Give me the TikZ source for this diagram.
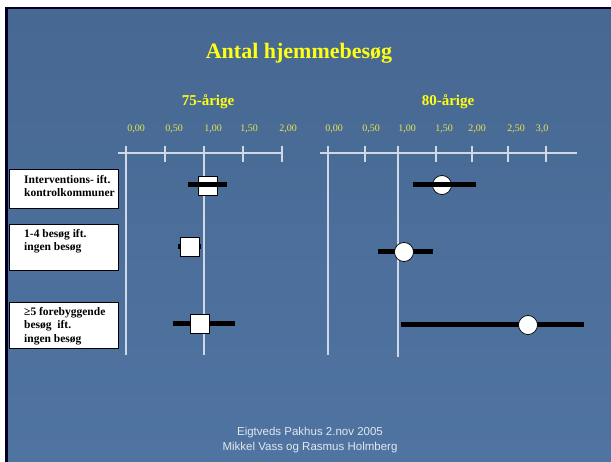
\documentclass[tikz,border=0pt]{standalone}
\usepackage{fontspec}
\setmainfont{Liberation Serif}
\setsansfont{Liberation Sans}
\usetikzlibrary{positioning}

\definecolor{slidetop}{RGB}{70,104,146}
\definecolor{slidemid}{RGB}{86,122,167}
\definecolor{slidelow}{RGB}{80,116,162}
\definecolor{titleyellow}{RGB}{255,255,20}
\definecolor{tickyellow}{RGB}{232,232,80}
\definecolor{axisgray}{RGB}{208,216,230}
\definecolor{footgray}{RGB}{226,231,238}

\begin{document}
\begin{tikzpicture}[x=1pt,y=-1pt,
    labelbox/.style={draw=black,fill=white,line width=0.8pt,minimum width=109pt,minimum height=#1,inner sep=0pt},
    labeltext/.style={anchor=north west,align=left,inner sep=0pt,font=\fontsize{11.5}{13.5}\selectfont\bfseries},
    ticklabel/.style={text=tickyellow,font=\fontsize{10}{12}\selectfont,inner sep=0pt},
    grouptitle/.style={text=titleyellow,font=\fontsize{15}{18}\selectfont\bfseries,inner sep=0pt},
    squaremark/.style={draw=black,fill=white,line width=0.7pt,minimum size=19pt,inner sep=0pt},
    circlemark/.style={circle,draw=black,fill=white,line width=0.7pt,minimum size=19pt,inner sep=0pt},
    cibar/.style={line width=5pt,black},
    axisline/.style={axisgray,line width=1.6pt}]
    \useasboundingbox (0,0) rectangle (611,462);
    % slide background and frame
    \fill[white] (0,0) rectangle (611,462);
    \fill[black!85!blue] (5,7) rectangle (611,462);
    \shade[top color=slidetop,middle color=slidemid,bottom color=slidelow] (8,10) rectangle (611,462);

    \node[text=titleyellow,font=\fontsize{22}{26}\selectfont\bfseries,inner sep=0pt] (title) at (299,53) {Antal hjemmebesøg};
    \node[grouptitle] (age75) at (208,102) {75-årige};
    \node[grouptitle] (age80) at (448,102) {80-årige};

    % axes
    \draw[axisline] (118,153) -- (282,153);
    \foreach \x in {165,243,282} \draw[axisline] (\x,146) -- (\x,162);
    \draw[axisline,line width=1.3pt] (126,146) -- (126,355);
    \draw[axisline,line width=1.3pt] (204,146) -- (204,355);
    \draw[axisline] (320,153) -- (577,153);
    \foreach \x in {365,436,472,508,546} \draw[axisline] (\x,146) -- (\x,162);
    \draw[axisline,line width=1.3pt] (328,146) -- (328,355);
    \draw[axisline,line width=1.3pt] (398,146) -- (398,357);

    \foreach \x/\t in {136/{0,00},174/{0,50},213/{1,00},249/{1,50},288/{2,00}}
      \node[ticklabel] at (\x,129) {\t};
    \foreach \x/\t in {334/{0,00},371/{0,50},407/{1,00},444/{1,50},477/{2,00},516/{2,50},542/{3,0}}
      \node[ticklabel] at (\x,129) {\t};

    % row labels
    \node[labelbox=39pt] (lab1) at (63.5,188.5) {};
    \node[labeltext] at (24,175) {Interventions- ift.\\kontrolkommuner};
    \node[labelbox=46pt] (lab2) at (63.5,247) {};
    \node[labeltext] at (24,229) {1-4 besøg ift.\\ingen besøg};
    \node[labelbox=46pt] (lab3) at (63.5,325) {};
    \node[labeltext] at (24,307) {≥5 forebyggende\\besøg\ \ ift.\\ingen besøg};

    % 75-aarige
    \coordinate (l1a) at (188,185); \coordinate (l1b) at (227,185);
    \node[squaremark] (sq1) at (207.5,185.5) {};
    \draw[cibar] (l1a) -- (l1b);
    \coordinate (l2a) at (178,247); \coordinate (l2b) at (201,247);
    \draw[cibar] (l2a) -- (l2b);
    \node[squaremark] (sq2) at (189.5,247) {};
    \coordinate (l3a) at (173,324); \coordinate (l3b) at (235,324);
    \draw[cibar] (l3a) -- (l3b);
    \node[squaremark] (sq3) at (199.5,324) {};

    % 80-aarige
    \coordinate (r1a) at (413,185); \coordinate (r1b) at (476,185);
    \node[circlemark] (ci1) at (442,185) {};
    \draw[cibar] (r1a) -- (r1b);
    \coordinate (r2a) at (378,252); \coordinate (r2b) at (433,252);
    \draw[cibar] (r2a) -- (r2b);
    \node[circlemark] (ci2) at (404,252) {};
    \coordinate (r3a) at (401,325); \coordinate (r3b) at (584,325);
    \draw[cibar] (r3a) -- (r3b);
    \node[circlemark] (ci3) at (528,325) {};

    \node[text=footgray,font=\sffamily\fontsize{11.5}{15}\selectfont,align=center,inner sep=0pt] (foot) at (310,440.5)
      {Eigtveds Pakhus 2.nov 2005\\Mikkel Vass og Rasmus Holmberg};
\end{tikzpicture}
\end{document}
